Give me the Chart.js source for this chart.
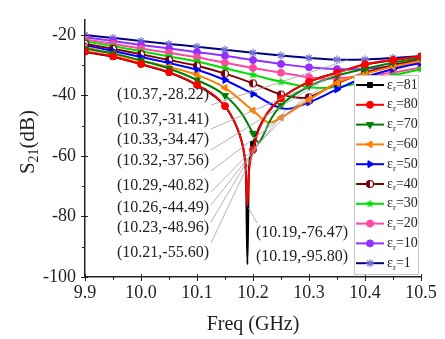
<!DOCTYPE html>
<html>
<head>
<meta charset="utf-8">
<script src="https://cdn.jsdelivr.net/npm/chart.js@4"></script>
<style>
  html, body { margin: 0; padding: 0; background: #fff; }
</style>
</head>
<body>
<canvas id="s21Chart" width="445" height="339"></canvas>
<script>
// relative permittivity of each curve, legend order
const epsValues = ['81', '80', '70', '60', '50', '40', '30', '20', '10', '1'];

// S21 curves (frequency in GHz, S21 in dB)
const freq81 = [9.9, 9.95, 10.0, 10.05, 10.1, 10.15, 10.17, 10.18, 10.184, 10.1875, 10.19, 10.1925, 10.196, 10.2, 10.21, 10.225, 10.25, 10.3, 10.35, 10.4, 10.45, 10.5];
const s21_81 = [-25.6, -27.2, -29.7, -32.4, -36.6, -43.6, -50, -55.3, -59, -66, -95.8, -66, -59.5, -56, -51, -46, -41, -35.5, -32.5, -29.8, -28.3, -27.1];
const freq80 = [9.9, 9.95, 10.0, 10.05, 10.1, 10.15, 10.17, 10.18, 10.184, 10.1875, 10.19, 10.1925, 10.196, 10.2, 10.21, 10.225, 10.25, 10.3, 10.35, 10.4, 10.45, 10.5];
const s21_80 = [-25.5, -27.1, -29.6, -32.3, -36.5, -43.5, -50, -55.3, -59, -66, -76.47, -66, -61, -58, -51.5, -46, -41, -35.5, -32.5, -29.7, -28.3, -27.1];
const freq70 = [9.9, 9.95, 10.0, 10.05, 10.1, 10.15, 10.18, 10.2, 10.21, 10.22, 10.23, 10.25, 10.3, 10.35, 10.4, 10.45, 10.5];
const s21_70 = [-24.6, -26.1, -28.4, -31.1, -34.9, -40, -46, -52.5, -55.6, -52.5, -48.5, -43.3, -37, -33.5, -31.2, -29.2, -27.6];
const freq60 = [9.9, 9.95, 10.0, 10.05, 10.1, 10.15, 10.2, 10.23, 10.25, 10.3, 10.35, 10.4, 10.45, 10.5];
const s21_60 = [-24.0, -26.3, -28.6, -30.6, -33.2, -37.5, -45, -48.96, -47.3, -41.5, -35.8, -32.8, -30.5, -28.6];
const freq50 = [9.9, 9.95, 10.0, 10.05, 10.1, 10.15, 10.2, 10.26, 10.3, 10.35, 10.4, 10.45, 10.5];
const s21_50 = [-23.4, -25.3, -27.3, -29.3, -31.5, -34.9, -39.5, -44.49, -42.3, -38, -34, -31.3, -29.2];
const freq40 = [9.9, 9.95, 10.0, 10.05, 10.1, 10.15, 10.2, 10.25, 10.29, 10.3, 10.35, 10.4, 10.45, 10.5];
const s21_40 = [-22.9, -24.6, -26.4, -28.3, -30.2, -32.8, -36, -39.7, -40.82, -40.6, -36, -32.5, -30, -28.1];
const freq30 = [9.9, 9.95, 10.0, 10.05, 10.1, 10.15, 10.2, 10.25, 10.32, 10.35, 10.4, 10.45, 10.5];
const s21_30 = [-22.1, -23.7, -25.4, -27.1, -28.8, -31, -33.2, -35.5, -37.56, -37.2, -35.6, -33.4, -31.3];
const freq20 = [9.9, 9.95, 10.0, 10.05, 10.1, 10.15, 10.2, 10.25, 10.3, 10.33, 10.35, 10.4, 10.45, 10.5];
const s21_20 = [-21.5, -23.0, -24.5, -25.9, -27.4, -29.2, -30.9, -32.5, -34.0, -34.47, -34.35, -33.6, -32.4, -30.8];
const freq10 = [9.9, 9.95, 10.0, 10.05, 10.1, 10.15, 10.2, 10.25, 10.3, 10.35, 10.37, 10.4, 10.45, 10.5];
const s21_10 = [-20.8, -22.0, -23.3, -24.5, -25.7, -26.9, -28.3, -29.6, -30.7, -31.3, -31.41, -31.2, -30.4, -29.5];
const freq1 = [9.9, 9.95, 10.0, 10.05, 10.1, 10.15, 10.2, 10.25, 10.3, 10.35, 10.37, 10.4, 10.45, 10.5];
const s21_1 = [-20.0, -21.0, -22.0, -23.0, -23.9, -24.9, -25.9, -26.8, -27.6, -28.15, -28.22, -28.1, -27.6, -27.0];

// resonance minima that are annotated (eps = 1 ... 81)
const minFreq = [10.37, 10.37, 10.33, 10.32, 10.29, 10.26, 10.23, 10.21, 10.19, 10.19];
const minS21 = [-28.22, -31.41, -34.47, -37.56, -40.82, -44.49, -48.96, -55.60, -76.47, -95.80];

const xTicks = [9.9, 10.0, 10.1, 10.2, 10.3, 10.4, 10.5];
const yTicks = [-100, -80, -60, -40, -20];

const SERIF = '"Liberation Serif", "Times New Roman", serif';

function halfCircle(color, r) {
  const c = document.createElement('canvas');
  const s = Math.ceil(2 * r + 3);
  c.width = c.height = s;
  const g = c.getContext('2d');
  g.beginPath(); g.arc(s / 2, s / 2, r, 0, Math.PI * 2);
  g.fillStyle = '#fff'; g.fill();
  g.beginPath(); g.arc(s / 2, s / 2, r, Math.PI / 2, Math.PI * 1.5);
  g.fillStyle = color; g.fill();
  g.beginPath(); g.arc(s / 2, s / 2, r, 0, Math.PI * 2);
  g.strokeStyle = color; g.lineWidth = 1.2; g.stroke();
  return c;
}

function solidStar(color, r) {
  const c = document.createElement('canvas');
  const s = Math.ceil(2 * r + 2);
  c.width = c.height = s;
  const g = c.getContext('2d');
  g.beginPath();
  for (let i = 0; i < 10; i++) {
    const rr = i % 2 ? r * 0.45 : r;
    const a = -Math.PI / 2 + i * Math.PI / 5;
    g.lineTo(s / 2 + rr * Math.cos(a), s / 2 + rr * Math.sin(a));
  }
  g.closePath();
  g.fillStyle = color; g.fill();
  return c;
}

const styles = [
  { color: '#000000', marker: '#000000', pointStyle: 'rect', rotation: 0, radius: 3.5 },
  { color: '#ff0000', marker: '#ff0000', pointStyle: 'circle', rotation: 0, radius: 3.5 },
  { color: '#008000', marker: '#008000', pointStyle: 'triangle', rotation: 180, radius: 4 },
  { color: '#ff8000', marker: '#ff8000', pointStyle: 'triangle', rotation: 270, radius: 4 },
  { color: '#0000ff', marker: '#0000ff', pointStyle: 'triangle', rotation: 90, radius: 4 },
  { color: '#800000', marker: '#800000', pointStyle: halfCircle('#800000', 3.5), rotation: 0, radius: 3.5 },
  { color: '#00dd00', marker: '#00dd00', pointStyle: solidStar('#00dd00', 4.5), rotation: 0, radius: 4 },
  { color: '#ff47a3', marker: '#ff47a3', pointStyle: 'circle', rotation: 0, radius: 3.5 },
  { color: '#9130ff', marker: '#9130ff', pointStyle: 'circle', rotation: 0, radius: 3.5 },
  { color: '#000080', marker: '#7070d8', pointStyle: 'star', rotation: 0, radius: 4 }
];

const freqs = [freq81, freq80, freq70, freq60, freq50, freq40, freq30, freq20, freq10, freq1];
const values = [s21_81, s21_80, s21_70, s21_60, s21_50, s21_40, s21_30, s21_20, s21_10, s21_1];

function onGrid(f) { return Math.abs(f * 20 - Math.round(f * 20)) < 1e-6; }

const datasets = epsValues.map((eps, i) => {
  const st = styles[i];
  return {
    label: 'εr=' + eps,
    data: freqs[i].map((f, k) => ({ x: f, y: values[i][k] })),
    borderColor: st.color,
    backgroundColor: st.marker,
    pointBorderColor: st.marker,
    pointBackgroundColor: st.marker,
    borderWidth: 2,
    cubicInterpolationMode: 'monotone',
    pointStyle: st.pointStyle,
    pointRotation: st.rotation,
    pointBorderWidth: st.pointStyle === 'star' ? 1.2 : 1,
    pointRadius: c => onGrid(c.raw.x) ? st.radius : 0,
    order: i === 0 ? 1 : 0
  };
});

// label placement of the minima annotations (eps = 1 ... 81)
const noteLayout = [
  { x: 209, y: 95, align: 'right', dy: 10 },
  { x: 209, y: 120, align: 'right', dy: 9 },
  { x: 209, y: 140, align: 'right', dy: 10 },
  { x: 209, y: 161, align: 'right', dy: 10 },
  { x: 209, y: 186, align: 'right', dy: 6 },
  { x: 209, y: 208, align: 'right', dy: -3 },
  { x: 209, y: 228, align: 'right', dy: -6 },
  { x: 209, y: 253, align: 'right', dy: -10 },
  { x: 256, y: 233, align: 'left', lead: true },
  { x: 256, y: 257, align: 'left' }
];

const notes = {
  id: 'notes',
  afterDraw(chart) {
    const { ctx, scales: { x, y } } = chart;
    ctx.save();
    ctx.strokeStyle = '#a0a0a0';
    ctx.lineWidth = 0.8;
    ctx.font = '16px ' + SERIF;
    ctx.fillStyle = '#222';
    ctx.textBaseline = 'middle';
    minFreq.forEach((f, i) => {
      const L = noteLayout[i];
      const px = x.getPixelForValue(f), py = y.getPixelForValue(minS21[i]);
      ctx.beginPath();
      if (L.align === 'right') {
        ctx.moveTo(L.x + 2, L.y + L.dy);
        ctx.lineTo(px, py);
        ctx.stroke();
      } else if (L.lead) {
        ctx.moveTo(px + 1, py + 2);
        ctx.lineTo(L.x + 1, L.y - 10);
        ctx.stroke();
      }
      ctx.textAlign = L.align;
      ctx.fillText('(' + f.toFixed(2) + ',' + minS21[i].toFixed(2) + ')', L.x, L.y);
    });
    ctx.restore();
  }
};

const axisDecor = {
  id: 'axisDecor',
  afterDraw(chart) {
    const { ctx, scales: { x, y }, chartArea: a } = chart;
    ctx.save();
    ctx.strokeStyle = '#222';
    ctx.lineWidth = 1;
    for (let k = 0; k < xTicks.length; k++) {
      const vals = [xTicks[k]];
      if (k < xTicks.length - 1) vals.push((xTicks[k] + xTicks[k + 1]) / 2);
      vals.forEach((v, j) => {
        const px = Math.round(x.getPixelForValue(v)) + 0.5;
        ctx.beginPath();
        ctx.moveTo(px, a.bottom - (j ? 0 : 3));
        ctx.lineTo(px, a.bottom + (j ? 3 : 4));
        ctx.stroke();
      });
    }
    for (let k = 0; k < yTicks.length; k++) {
      const vals = [yTicks[k]];
      if (k < yTicks.length - 1) vals.push((yTicks[k] + yTicks[k + 1]) / 2);
      vals.forEach((v, j) => {
        const py = Math.round(y.getPixelForValue(v)) + 0.5;
        ctx.beginPath();
        ctx.moveTo(a.left - (j ? 3 : 4), py);
        ctx.lineTo(a.left + (j ? 0 : 3), py);
        ctx.stroke();
      });
    }
    // y axis title S21(dB)
    ctx.translate(27, 142);
    ctx.rotate(-Math.PI / 2);
    ctx.fillStyle = '#222';
    ctx.textBaseline = 'alphabetic';
    ctx.textAlign = 'left';
    const big = '21px ' + SERIF, small = '14px ' + SERIF;
    ctx.font = big; const wS = ctx.measureText('S').width, wT = ctx.measureText('(dB)').width;
    ctx.font = small; const w21 = ctx.measureText('21').width;
    let cx = -(wS + w21 + wT) / 2;
    ctx.font = big; ctx.fillText('S', cx, 7); cx += wS;
    ctx.font = small; ctx.fillText('21', cx, 11); cx += w21;
    ctx.font = big; ctx.fillText('(dB)', cx, 7);
    ctx.restore();

    // legend box
    ctx.save();
    const bx = 354, by = 75, bw = 64, bh = 199;
    ctx.fillStyle = '#fff';
    ctx.fillRect(bx, by, bw, bh);
    ctx.strokeStyle = '#c8c8c8';
    ctx.lineWidth = 1;
    ctx.strokeRect(bx + 0.5, by + 0.5, bw, bh);
    chart.data.datasets.forEach((ds, i) => {
      const st = styles[i];
      const ly = by + 10 + i * 19.8;
      ctx.strokeStyle = st.color;
      ctx.lineWidth = 2;
      ctx.beginPath(); ctx.moveTo(bx + 2, ly); ctx.lineTo(bx + 30, ly); ctx.stroke();
      ctx.fillStyle = st.marker;
      ctx.strokeStyle = st.marker;
      ctx.lineWidth = st.pointStyle === 'star' ? 1.2 : 1;
      Chart.helpers.drawPoint(ctx, { pointStyle: st.pointStyle, rotation: st.rotation, radius: st.radius, borderWidth: ctx.lineWidth }, bx + 16, ly);
      ctx.fillStyle = '#222';
      ctx.textBaseline = 'middle';
      ctx.textAlign = 'left';
      let tx = bx + 33;
      ctx.font = '14px ' + SERIF; ctx.fillText('ε', tx, ly); tx += ctx.measureText('ε').width;
      ctx.font = '9px ' + SERIF; ctx.fillText('r', tx, ly + 4); tx += ctx.measureText('r').width;
      ctx.font = '14px ' + SERIF; ctx.fillText('=' + epsValues[i], tx, ly);
    });
    ctx.restore();
  }
};

const ctx = document.getElementById('s21Chart').getContext('2d');
const s21Chart = new Chart(ctx, {
  type: 'line',
  data: { datasets: datasets },
  options: {
    responsive: false,
    animation: false,
    layout: { padding: { top: 7, right: 24, left: 0, bottom: 0 } },
    plugins: { legend: { display: false }, tooltip: { enabled: false } },
    scales: {
      x: {
        type: 'linear',
        min: 9.9,
        max: 10.5,
        afterBuildTicks: s => { s.ticks = xTicks.map(v => ({ value: v })); },
        afterFit: s => { s.height = 62; },
        ticks: { callback: v => v.toFixed(1), font: { family: SERIF, size: 18 }, color: '#222', padding: 5, maxRotation: 0, autoSkip: false },
        grid: { drawOnChartArea: false, drawTicks: false },
        border: { color: '#222', width: 1.5 },
        title: { display: true, text: 'Freq (GHz)', font: { family: SERIF, size: 20 }, color: '#222', padding: { top: 0, bottom: 2 } }
      },
      y: {
        min: -100,
        max: -15,
        afterBuildTicks: s => { s.ticks = yTicks.map(v => ({ value: v })); },
        afterFit: s => { s.width = 85; },
        ticks: { callback: v => String(v), font: { family: SERIF, size: 18 }, color: '#222', padding: 9 },
        grid: { drawOnChartArea: false, drawTicks: false },
        border: { color: '#222', width: 1.5 }
      }
    }
  },
  plugins: [notes, axisDecor]
});
</script>
</body>
</html>
